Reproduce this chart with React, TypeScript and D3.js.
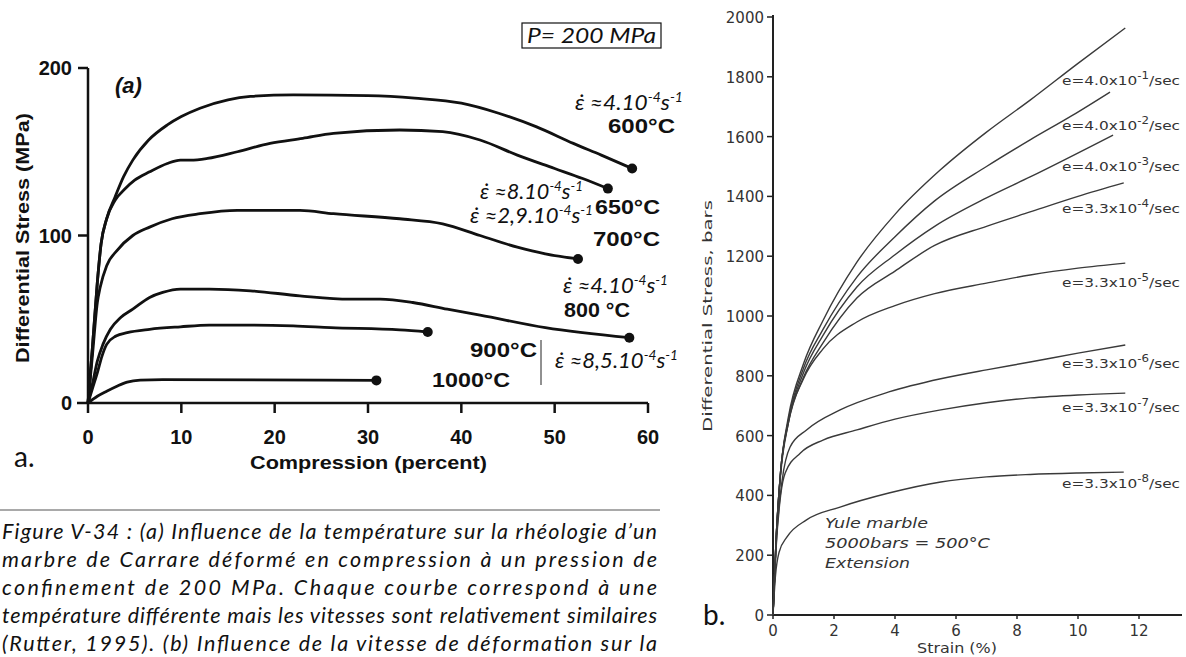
import React from 'react';
import * as d3 from 'd3';

// ---------- Panel (a) data ----------
const compTicks = [0, 10, 20, 30, 40, 50, 60];
const stressTicksA = [0, 100, 200];
const c600: [number, number][] = [[0,0],[0.5,35],[1,72],[1.4,95],[2,110],[2.9,123],[3.8,135],[4.8,145],[6.5,157],[8.5,166],[10,171],[12,176],[15,181],[17.4,183],[22,184],[30,183.5],[35,182],[40,179],[44,173],[48,165],[52,155],[55,148],[58.3,140]];
const c650: [number, number][] = [[0,0],[0.5,35],[1,72],[1.4,95],[2,110],[2.9,121],[4,128],[5,133],[6.6,138],[8.5,143],[9.9,145],[11,145],[12.8,146],[16,150],[19.5,155],[23,158],[26.3,161],[33.4,163],[38,162],[42,157],[46,148],[50,140],[53,134],[55.7,128]];
const c700: [number, number][] = [[0,0],[0.5,30],[1,60],[1.3,69],[2,82],[3.1,91],[4.8,100],[6.6,105],[9,110],[12,113],[16,115],[22.7,115],[26.3,113],[33.4,110],[38,107],[42,100],[46,93],[49,89],[52.5,86]];
const c800: [number, number][] = [[0,0],[0.5,12],[1,25],[1.6,35],[2.4,44],[3.5,51],[4.8,56],[6.6,63],[8,66],[9.9,68],[13,68],[17.4,67],[22.7,64],[28,62],[31.3,62],[34.8,60],[38.5,56],[42,52.5],[49,45],[58,39]];
const c900: [number, number][] = [[0,0],[0.5,9],[1,18],[1.5,28],[2,35],[3,40],[4.2,42],[6.6,44],[9.9,45.5],[13,46.5],[17.4,46.5],[22,46],[26,45],[33.4,43.6],[36.4,42.4]];
const c1000: [number, number][] = [[0,0],[1,4],[2,7],[3.1,10],[4.2,12.5],[5.6,13.7],[8,14],[30.9,13.5]];
const curvesA = [c600, c650, c700, c800, c900, c1000];
const tempLabels = ['600°C', '650°C', '700°C', '800 °C', '900°C', '1000°C'];
const rateLabels = ['4.10', '8.10', '2,9.10', '4.10', '8,5.10'];

// ---------- Panel (b) data ----------
const strainTicks = [0, 2, 4, 6, 8, 10, 12];
const stressTicksB = [0, 200, 400, 600, 800, 1000, 1200, 1400, 1600, 1800, 2000];
const r1: [number, number][] = [[0,0],[0.1,250],[0.25,480],[0.5,660],[1,840],[1.64,985],[2.75,1180],[4,1340],[5.48,1488],[7,1615],[8.43,1722],[10,1845],[11.55,1963]];
const r2: [number, number][] = [[0,0],[0.1,250],[0.25,480],[0.5,650],[1,825],[1.64,955],[2.75,1130],[4,1265],[5.3,1385],[7,1500],[8.43,1589],[9.8,1670],[11.05,1749]];
const r3: [number, number][] = [[0,0],[0.1,250],[0.25,480],[0.5,645],[1,810],[1.64,935],[2.75,1097],[4,1205],[5.3,1300],[7,1395],[8.43,1465],[11.15,1605]];
const r4: [number, number][] = [[0,0],[0.1,250],[0.25,480],[0.5,640],[1,795],[1.64,910],[2.75,1060],[4,1150],[5.3,1236],[7,1300],[8.43,1348],[10,1400],[11.5,1445]];
const r5: [number, number][] = [[0,0],[0.1,250],[0.25,470],[0.5,640],[1,790],[1.64,890],[2.75,980],[4,1035],[5.3,1075],[7,1110],[8.43,1137],[10,1160],[11.55,1177]];
const r6: [number, number][] = [[0,0],[0.1,230],[0.3,450],[0.56,562],[1.1,619],[2.2,686],[3.8,746],[5.5,790],[7,820],[8.43,846],[10,876],[11.55,903]];
const r7: [number, number][] = [[0,0],[0.1,220],[0.25,400],[0.4,475],[0.9,542],[1.64,585],[2.75,619],[4,655],[5.5,686],[7,710],[8.43,726],[10,736],[11.55,742]];
const r8: [number, number][] = [[0,0],[0.08,130],[0.2,210],[0.46,261],[1.1,318],[2.2,361],[3.8,408],[5.5,445],[7,462],[8.43,470],[10,475],[11.5,478]];
const curvesB = [r1, r2, r3, r4, r5, r6, r7, r8];
const rateMantissa = ['4.0', '4.0', '4.0', '3.3', '3.3', '3.3', '3.3', '3.3'];
const rateExponent = ['-1', '-2', '-3', '-4', '-5', '-6', '-7', '-8'];

const captionLines = [
  'Figure V-34 : (a) Influence de la température sur la rhéologie d’un',
  'marbre de Carrare déformé en compression à un pression de',
  'confinement de 200 MPa. Chaque courbe correspond à une',
  'température différente mais les vitesses sont relativement similaires',
  '(Rutter, 1995). (b) Influence de la vitesse de déformation sur la',
];

// ---------- layout ----------
const xA = d3.scaleLinear().domain([0, 60]).range([88, 648]);
const yA = d3.scaleLinear().domain([0, 200]).range([403, 68]);
const xB = d3.scaleLinear().domain([0, 12]).range([773, 1139]);
const yB = d3.scaleLinear().domain([0, 2000]).range([615, 17]);

const lineA = d3.line<[number, number]>().x(d => xA(d[0])).y(d => yA(d[1])).curve(d3.curveMonotoneX);
const lineB = d3.line<[number, number]>().x(d => xB(d[0])).y(d => yB(d[1])).curve(d3.curveMonotoneX);

const tempPos = [[608, 133, 67], [595, 214, 65], [593, 246, 67], [564, 317, 66], [470, 357, 67], [432, 387, 78]];
const ratePos = [[575, 110, 108], [480, 199, 103], [470, 223, 123], [563, 293, 105], [555, 368, 123]];
const rateLabelY = [85, 130, 171, 213, 287, 368, 412, 488];

const SANS = "'Liberation Sans', Arial, sans-serif";
const CAL = "Lato, 'Open Sans', sans-serif";
const OLD = "'DejaVu Sans', sans-serif";

export default function App() {
  return (
    <svg width={1186} height={657} style={{ position: 'absolute', left: 0, top: 0, background: '#fff' }}>
      <rect x={0} y={0} width={1186} height={657} fill="#fff" />
      {/* ===== Panel a ===== */}
      <g>
        <line x1={88} x2={88} y1={yA(200)} y2={yA(0)} stroke="#111" strokeWidth={2.5} />
        <line x1={77} x2={xA(60)} y1={yA(0)} y2={yA(0)} stroke="#111" strokeWidth={2.5} />
        {stressTicksA.filter(t => t > 0).map(t => (
          <line key={t} x1={78} x2={88} y1={yA(t)} y2={yA(t)} stroke="#111" strokeWidth={2.5} />
        ))}
        {compTicks.map(t => (
          <line key={t} x1={xA(t)} x2={xA(t)} y1={yA(0)} y2={yA(0) + 10} stroke="#111" strokeWidth={2.5} />
        ))}
        {stressTicksA.map(t => (
          <text key={t} x={72} y={yA(t) + 7} textAnchor="end" fontFamily={SANS} fontWeight={700} fontSize={20} fill="#111">{t}</text>
        ))}
        {compTicks.map(t => (
          <text key={t} x={xA(t)} y={444} textAnchor="middle" fontFamily={SANS} fontWeight={700} fontSize={20} fill="#111">{t}</text>
        ))}
        <text x={250} y={469} fontFamily={SANS} fontWeight={700} fontSize={18} fill="#111" textLength={237} lengthAdjust="spacingAndGlyphs">Compression  (percent)</text>
        <text transform="translate(29,238) rotate(-90)" textAnchor="middle" fontFamily={SANS} fontWeight={700} fontSize={18} fill="#111" textLength={250} lengthAdjust="spacingAndGlyphs">Differential Stress  (MPa)</text>
        <text x={115} y={93} fontFamily={SANS} fontWeight={700} fontStyle="italic" fontSize={22} fill="#111">(a)</text>

        {curvesA.map((c, i) => (
          <path key={i} d={lineA(c) || ''} fill="none" stroke="#111" strokeWidth={2.8} strokeLinejoin="round" />
        ))}
        {curvesA.map((c, i) => {
          const last = c[c.length - 1];
          return <circle key={i} cx={xA(last[0])} cy={yA(last[1])} r={5} fill="#111" />;
        })}

        {tempLabels.map((t, i) => (
          <text key={t} x={tempPos[i][0]} y={tempPos[i][1]} fontFamily={SANS} fontWeight={700} fontSize={20} fill="#111" textLength={tempPos[i][2]} lengthAdjust="spacingAndGlyphs">{t}</text>
        ))}
        {rateLabels.map((r, i) => (
          <text key={i} x={ratePos[i][0]} y={ratePos[i][1]} fontFamily={CAL} fontStyle="italic" fontSize={21} fill="#111" textLength={ratePos[i][2]} lengthAdjust="spacingAndGlyphs">
            {'\u03B5\u0307 \u2248' + r}
            <tspan dy={-8} fontSize={13}>-4</tspan>
            <tspan dy={8}>s</tspan>
            <tspan dy={-8} fontSize={13}>-1</tspan>
          </text>
        ))}
        <line x1={541} x2={541} y1={340} y2={385} stroke="#222" strokeWidth={1} />

        <rect x={522} y={23} width={139} height={25} fill="none" stroke="#111" strokeWidth={1.2} />
        <text x={527} y={43} fontFamily={CAL} fontStyle="italic" fontSize={21} fill="#111" textLength={129} lengthAdjust="spacingAndGlyphs">P= 200 MPa</text>

        <text x={14} y={467} fontFamily={CAL} fontSize={28} fill="#111">a.</text>
      </g>

      {/* ===== caption ===== */}
      <line x1={0} x2={660} y1={510} y2={510} stroke="#555" strokeWidth={1.2} />
      {captionLines.map((l, i) => (
        <text key={i} x={2} y={539 + i * 28} fontFamily={CAL} fontStyle="italic" fontSize={21.5} fill="#111" textLength={655} lengthAdjust="spacing">{l}</text>
      ))}

      {/* ===== Panel b ===== */}
      <g>
        <line x1={773} x2={773} y1={yB(2000) - 2} y2={yB(0)} stroke="#222" strokeWidth={2} />
        <line x1={773} x2={1182} y1={yB(0)} y2={yB(0)} stroke="#222" strokeWidth={2} />
        {stressTicksB.map(t => (
          <line key={t} x1={767} x2={773} y1={yB(t)} y2={yB(t)} stroke="#222" strokeWidth={1.5} />
        ))}
        {strainTicks.map(t => (
          <line key={t} x1={xB(t)} x2={xB(t)} y1={yB(0)} y2={yB(0) + 4} stroke="#222" strokeWidth={1.5} />
        ))}
        {stressTicksB.map(t => (
          <text key={t} x={764} y={yB(t) + 6} textAnchor="end" fontFamily={OLD} fontSize={15} fill="#333">{t}</text>
        ))}
        {strainTicks.map(t => (
          <text key={t} x={xB(t)} y={636} textAnchor="middle" fontFamily={OLD} fontSize={15} fill="#333">{t}</text>
        ))}
        <text x={957} y={653} textAnchor="middle" fontFamily={OLD} fontSize={14} fill="#333" textLength={80} lengthAdjust="spacingAndGlyphs">Strain (%)</text>
        <text transform="translate(712,316) rotate(-90)" textAnchor="middle" fontFamily={OLD} fontSize={13} fill="#333" textLength={232} lengthAdjust="spacingAndGlyphs">Differential Stress, bars</text>

        {curvesB.map((c, i) => (
          <path key={i} d={lineB(c) || ''} fill="none" stroke="#3a3a3a" strokeWidth={1.4} />
        ))}

        {rateMantissa.map((m, i) => (
          <text key={i} x={1062} y={rateLabelY[i]} fontFamily={OLD} fontSize={13} fill="#333" textLength={118} lengthAdjust="spacingAndGlyphs">
            {'e=' + m + 'x10'}
            <tspan dy={-6} fontSize={10}>{rateExponent[i]}</tspan>
            <tspan dy={6}>/sec</tspan>
          </text>
        ))}

        <text x={825} y={528} fontFamily={OLD} fontStyle="italic" fontSize={14} fill="#333" textLength={103} lengthAdjust="spacingAndGlyphs">Yule marble</text>
        <text x={825} y={548} fontFamily={OLD} fontStyle="italic" fontSize={14} fill="#333" textLength={165} lengthAdjust="spacingAndGlyphs">5000bars = 500°C</text>
        <text x={825} y={568} fontFamily={OLD} fontStyle="italic" fontSize={14} fill="#333" textLength={85} lengthAdjust="spacingAndGlyphs">Extension</text>

        <text x={703} y={625} fontFamily={CAL} fontSize={28} fill="#111">b.</text>
      </g>
    </svg>
  );
}
